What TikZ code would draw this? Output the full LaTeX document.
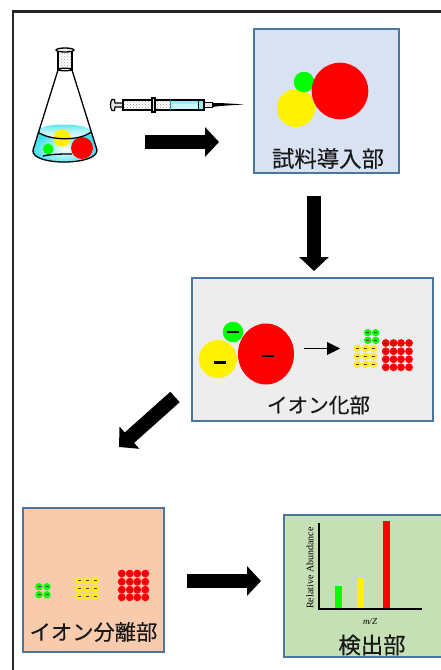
\documentclass[tikz,border=0pt]{standalone}
\usepackage{fontspec}
\setmainfont{Liberation Serif}
\newfontfamily\cjkjp[FakeBold=0.25]{Noto Sans CJK JP}
\usetikzlibrary{arrows.meta,patterns}
\definecolor{boxedge}{HTML}{4A76A0}
\definecolor{liquid}{HTML}{3FE0EE}
\newcommand{\ioncluster}[4]{% colour, radius, x list, y list
  \foreach \yy in {#4}{\foreach \xx in {#3}{
    \fill[#1] (\xx,\yy) circle (#2);
    \fill[black!75] (\xx-1.5,\yy-0.3) rectangle (\xx+1.5,\yy+0.6);
  }}}
\tikzset{
  stagebox/.style={draw=boxedge,line width=2pt,inner sep=0pt,outer sep=0pt},
  stagelabel/.style={text=black!90,inner sep=0pt},
  blockarrow/.style={draw=black,line width=14pt,-{Triangle[length=14pt,width=29pt]}},
  minus/.style={black,line width=2.8pt},
  flaskline/.style={draw=black,line width=1.3pt},
}
\begin{document}
\begin{tikzpicture}[x=1pt,y=-1pt]
\useasboundingbox (0,0) rectangle (440,670);
% outer frame
\draw[line width=2.6pt,black!85] (13,671) -- (13,11.5) -- (441,11.5);
% stage boxes
\node[stagebox,fill={rgb,255:red,217;green,226;blue,243},minimum width=145pt,minimum height=144pt] (inlet) at (326.5,101) {};
\node[stagebox,fill=black!7,minimum width=241pt,minimum height=143pt] (ionizer) at (312.5,349.5) {};
\node[stagebox,fill={rgb,255:red,248;green,203;blue,173},minimum width=141pt,minimum height=144pt] (separator) at (93.5,580) {};
\node[stagebox,fill={rgb,255:red,197;green,224;blue,180},minimum width=162pt,minimum height=142pt] (detector) at (365,586) {};
% labels
\node[stagelabel,font=\cjkjp\fontsize{22.4}{24}\selectfont] (l1) at (328,158.5) {試料導入部};
\node[stagelabel,font=\cjkjp\fontsize{20.6}{24}\selectfont] (l2) at (318.5,405) {イオン化部};
\node[stagelabel,font=\cjkjp\fontsize{21.3}{24}\selectfont] (l3) at (93.5,632) {イオン分離部};
\node[stagelabel,font=\cjkjp\fontsize{22.4}{24}\selectfont] (l4) at (372,645) {検出部};
% block arrows
\coordinate (a1s) at (145,142); \coordinate (a1e) at (219,142);
\coordinate (a2s) at (314,196); \coordinate (a2e) at (314,271);
\coordinate (a3s) at (175,397); \coordinate (a3e) at (119,447);
\coordinate (a4s) at (187,581); \coordinate (a4e) at (261,581);
\draw[blockarrow] (a1s) -- (a1e);
\draw[blockarrow] (a2s) -- (a2e);
\draw[blockarrow] (a3s) -- (a3e);
\draw[blockarrow] (a4s) -- (a4e);
% flask
\shade[top color=liquid,bottom color=white,middle color=liquid!35] (38,132) .. controls (36,122) and (91,122) .. (91,132) .. controls (91,141) and (38,141) .. (38,132) -- cycle;
\shade[inner color=white,outer color=liquid] (38,132) .. controls (50,141) and (80,141) .. (91,132) -- (97,152) .. controls (92,166) and (38,166) .. (33,152) -- cycle;
\fill[yellow] (62,138) circle (8.7);
\fill[green] (48.3,149) circle (5.4);
\fill[red] (82,148) circle (11);
\draw[flaskline] (58,70) -- (33,150) .. controls (30,166) and (98,166) .. (97,150) -- (72,70);
\draw[flaskline] (38,132) .. controls (50,141) and (80,141) .. (91,132);
\draw[flaskline] (43,156) .. controls (52,154) and (62,154) .. (72,154);
\fill[pattern=crosshatch dots,pattern color=black!35] (58,50) rectangle (72,69);
\draw[flaskline] (58,51) -- (58,70); \draw[flaskline] (72,51) -- (72,70);
\draw[flaskline,fill=black!8] (65,50) ellipse (9 and 2);
\draw[flaskline] (65,69.5) ellipse (7 and 1.3);
% syringe
\draw[black,line width=1.2pt,fill=black!10] (112,99.5) -- (114.5,99.5) -- (115,103) -- (123,103) -- (123,107) -- (115,107) -- (114.5,110.5) -- (112,110.5) .. controls (110,108) and (110,102) .. (112,99.5) -- cycle;
\fill[pattern=crosshatch dots,pattern color=black!40] (123,100) rectangle (170,110);
\fill[liquid!55] (170,100) rectangle (204,110);
\fill[white,opacity=.5] (172,104) rectangle (198,109);
\draw[black,line width=1.3pt] (123,100) rectangle (204,110);
\draw[liquid!70!black,line width=1pt] (170,100) -- (170,110);
\draw[black,line width=.8pt] (198,100) -- (198,110);
\draw[black,line width=1.2pt,fill=black!10] (152,98) rectangle (155,112);
\draw[black,line width=1pt,fill=black!10] (204,102.5) rectangle (212,107.5);
\fill[black] (212,103) -- (220,103) -- (244,104.4) -- (220,106) -- (212,107) -- cycle;
% inlet contents
\fill[yellow] (296,108) circle (19);
\fill[green] (304,82) circle (10.3);
\fill[red] (340,91) circle (28.3);
% ionizer contents
\fill[yellow] (218,359) circle (19);
\fill[green] (233,332) circle (10.3);
\fill[red] (266,354) ellipse (28 and 30.5);
\draw[minus] (213.5,362.5) -- (225.5,362.5);
\draw[minus] (227,332) -- (239,332);
\draw[minus] (262,356) -- (274,356);
\coordinate (ion1) at (304,348.5); \coordinate (ion2) at (340,348.5);
\draw[black,line width=.9pt,-{Triangle[length=13pt,width=13pt]}] (ion1) -- (ion2);
\ioncluster{green}{3.7}{367.7,375.7}{332.7,340.3}
\ioncluster{yellow}{3.7}{357.3,365.7,373.7}{348.3,356.3,364.3}
\ioncluster{red}{3.9}{385.7,393.5,401,409}{343,351.3,359.3,367.3}
% separator contents
\ioncluster{green}{3.7}{39,47}{586.7,594.7}
\ioncluster{yellow}{3.7}{79.3,87.3,95.3}{580.7,588.7,596}
\ioncluster{red}{3.9}{121.7,129.7,137.3,145.3}{573.5,581.7,589.7,597.3}
% spectrum
\fill[green] (335,586) rectangle (342,608);
\fill[yellow] (357,578) rectangle (364,608);
\fill[red] (383,521) rectangle (390,608);
\draw[black,line width=1.1pt] (319,523) -- (319,609) -- (422,609);
\node[rotate=90,font=\fontsize{10}{11}\selectfont,inner sep=0pt] (yl) at (310,568) {Relative Abundance};
\node[font=\fontsize{9}{10}\selectfont\itshape,inner sep=0pt] (xl) at (370,622) {m/Z};
\end{tikzpicture}
\end{document}
